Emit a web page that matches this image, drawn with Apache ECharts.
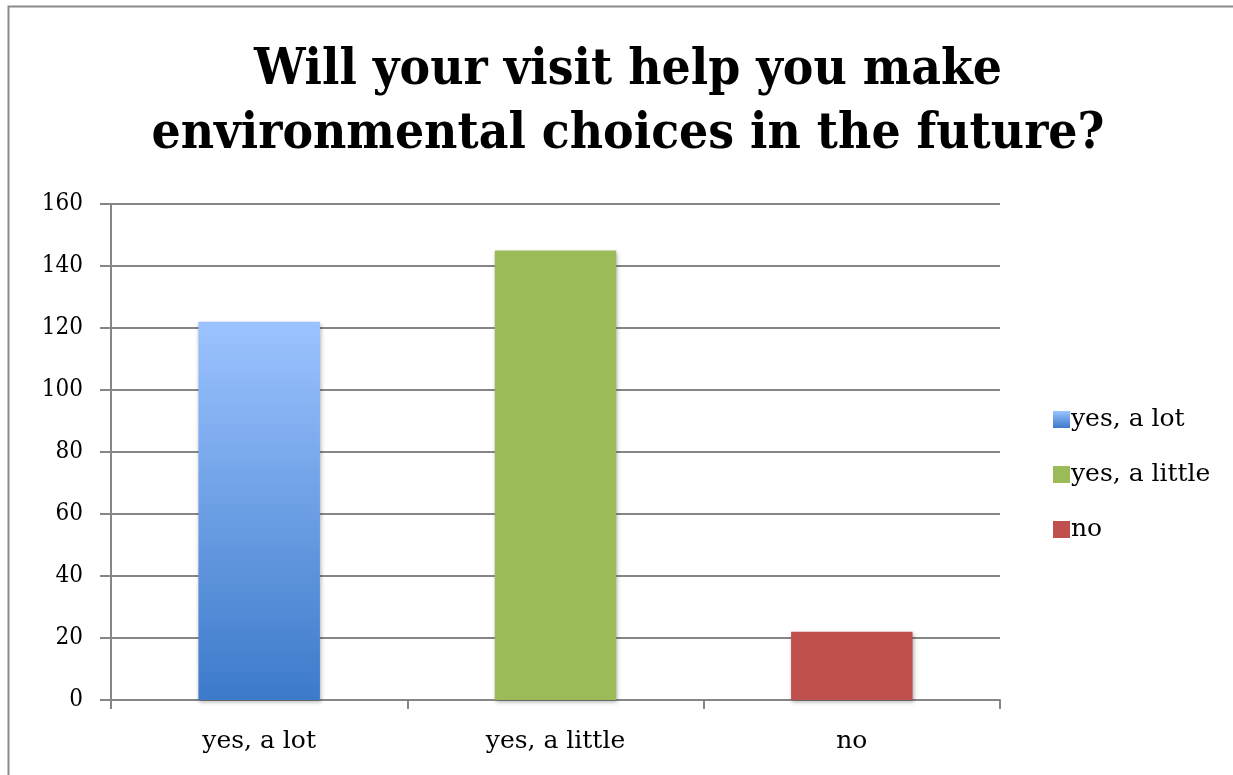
<!DOCTYPE html>
<html>
<head>
<meta charset="utf-8">
<script src="https://cdn.jsdelivr.net/npm/echarts@6/dist/echarts.min.js"></script>
<style>
html,body{margin:0;padding:0;background:#fff;}
#c{width:1233px;height:775px;}
</style>
</head>
<body>
<div id="c"></div>
<script>
const titleText = 'Will your visit help you make\nenvironmental choices in the future?';
const categories = ['yes, a lot', 'yes, a little', 'no'];
const seriesNames = ['yes, a lot', 'yes, a little', 'no'];
const values = [122, 145, 22];
const yTicks = [0, 20, 40, 60, 80, 100, 120, 140, 160];

const FONT = 'DejaVu Serif';
const FONT_C = 'DejaVu Serif Condensed';
const colors = [
  new echarts.graphic.LinearGradient(0, 0, 0, 1, [
    {offset: 0, color: '#9CC3FF'},
    {offset: 1, color: '#3C7ACA'}
  ]),
  '#9BBB59',
  '#C0504D'
];

const chart = echarts.init(document.getElementById('c'));
chart.setOption({
  animation: false,
  backgroundColor: '#fff',
  graphic: [{
    type: 'rect',
    shape: {x: 8.5, y: 6.5, width: 1300, height: 900},
    style: {fill: 'none', stroke: '#8c8c8c', lineWidth: 2},
    silent: true
  }],
  title: {
    text: titleText,
    left: 628,
    textAlign: 'center',
    top: 39,
    padding: 0,
    textStyle: {
      fontFamily: FONT_C,
      fontWeight: 'bold',
      fontSize: 51,
      lineHeight: 64,
      color: '#000'
    }
  },
  legend: {
    orient: 'vertical',
    left: 1048,
    top: 402,
    itemWidth: 17,
    itemHeight: 17,
    itemGap: 30,
    icon: 'rect',
    textStyle: {fontFamily: FONT, fontSize: 25, color: '#000', padding: [0, 0, 0, -4]},
    data: seriesNames
  },
  grid: {left: 111, right: 233, top: 204, bottom: 75, containLabel: false},
  xAxis: {
    type: 'category',
    data: categories,
    axisLine: {lineStyle: {color: '#868686', width: 2}},
    axisTick: {show: true, length: 9, lineStyle: {color: '#868686', width: 2}},
    axisLabel: {fontFamily: FONT, fontSize: 25, color: '#000', margin: 29}
  },
  yAxis: {
    type: 'value',
    min: yTicks[0],
    max: yTicks[yTicks.length - 1],
    interval: 20,
    axisLine: {show: true, lineStyle: {color: '#868686', width: 2}},
    axisTick: {show: true, length: 11, lineStyle: {color: '#868686', width: 2}},
    splitLine: {lineStyle: {color: '#868686', width: 2}},
    axisLabel: {fontFamily: FONT_C, fontSize: 24, color: '#000', margin: 28}
  },
  series: seriesNames.map((name, i) => ({
    name: name,
    type: 'bar',
    stack: 'all',
    barWidth: '41%',
    data: categories.map((c, j) => j === i ? values[i] : '-'),
    itemStyle: {
      color: colors[i],
      shadowBlur: 4,
      shadowColor: 'rgba(0,0,0,0.3)',
      shadowOffsetX: 1,
      shadowOffsetY: 2
    }
  }))
});
</script>
</body>
</html>
